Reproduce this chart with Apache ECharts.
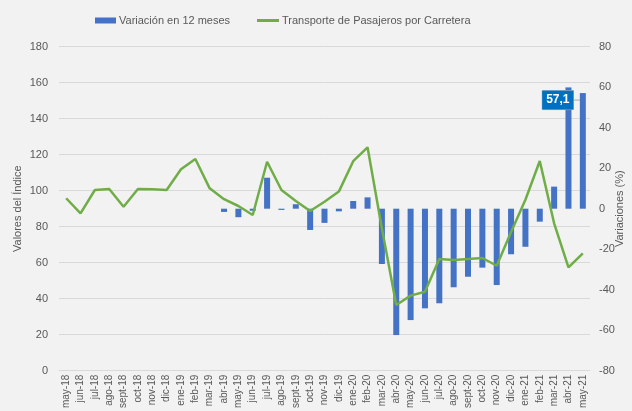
<!DOCTYPE html>
<html>
<head>
<meta charset="utf-8">
<script src="https://cdn.jsdelivr.net/npm/echarts@6/dist/echarts.min.js"></script>
<style>
html,body{margin:0;padding:0;background:#F2F2F2;}
#c{width:632px;height:411px;}
</style>
</head>
<body>
<div id="c"></div>
<script>
var categories = ['may-18','jun-18','jul-18','ago-18','sept-18','oct-18','nov-18','dic-18','ene-19','feb-19','mar-19','abr-19','may-19','jun-19','jul-19','ago-19','sept-19','oct-19','nov-19','dic-19','ene-20','feb-20','mar-20','abr-20','may-20','jun-20','jul-20','ago-20','sept-20','oct-20','nov-20','dic-20','ene-21','feb-21','mar-21','abr-21','may-21'];
var variacion = [null,null,null,null,null,null,null,null,null,null,null,-1.6,-4.2,-1.0,15.3,-0.6,2.2,-10.5,-7.0,-1.3,3.8,5.6,-27.3,-62.4,-55.0,-49.2,-46.7,-38.8,-33.6,-29.1,-37.7,-22.5,-18.8,-6.4,10.9,59.9,57.1];
var transporte = [95.8,87.4,100.4,100.9,91.1,100.9,100.8,100.4,111.9,117.6,101.3,95.3,91.5,86.5,116.1,100.4,94.3,88.7,93.9,99.5,116.4,124.1,79.0,36.5,41.7,43.9,62.0,61.5,62.0,62.6,58.3,77.0,95.0,116.5,81.9,57.4,65.2];
var leftTicks = {min:0, max:180, interval:20};
var rightTicks = {min:-80, max:80, interval:20};
var labelIndex = 36;

var barData = variacion.map(function(v, i){
  if (i === labelIndex) {
    return {value: v, label: {show: true}};
  }
  return v;
});

var chart = echarts.init(document.getElementById('c'));
var txt = '#595959';
chart.setOption({
  backgroundColor: '#F2F2F2',
  textStyle: {fontFamily: '"Liberation Sans", Arial, sans-serif'},
  legend: [{
    data: ['Variación en 12 meses'],
    left: 90, top: 10,
    itemWidth: 21, itemHeight: 6, icon: 'rect', itemGap: 3,
    textStyle: {color: txt, fontSize: 11, padding: [0,0,0,-2]}
  },{
    data: ['Transporte de Pasajeros por Carretera'],
    left: 252, top: 10,
    itemWidth: 22, itemHeight: 3, icon: 'rect',
    textStyle: {color: txt, fontSize: 11, padding: [0,0,0,-2]}
  }],
  grid: {left: 59, right: 42, top: 46.7, bottom: 40.3, containLabel: false, outerBoundsMode: 'none'},
  xAxis: {
    type: 'category',
    data: categories,
    boundaryGap: true,
    axisLine: {show: true, lineStyle: {color: '#D9D9D9', width: 1}},
    axisTick: {show: false},
    axisLabel: {rotate: 90, color: txt, fontSize: 10, interval: 0, margin: 4}
  },
  yAxis: [{
    type: 'value',
    min: leftTicks.min, max: leftTicks.max, interval: leftTicks.interval,
    name: 'Valores del Índice', nameLocation: 'middle', nameGap: 36, nameMoveOverlap: false,
    nameTextStyle: {color: txt, fontSize: 11},
    axisLine: {show: false}, axisTick: {show: false},
    axisLabel: {color: txt, fontSize: 11, margin: 11},
    splitLine: {show: true, lineStyle: {color: '#D9D9D9', width: 1}}
  },{
    type: 'value',
    min: rightTicks.min, max: rightTicks.max, interval: rightTicks.interval,
    name: 'Variaciones (%)', nameLocation: 'middle', nameGap: 24, nameMoveOverlap: false,
    nameTextStyle: {color: txt, fontSize: 11},
    axisLine: {show: false}, axisTick: {show: false},
    axisLabel: {color: txt, fontSize: 11, margin: 9},
    splitLine: {show: false}
  }],
  series: [{
    name: 'Variación en 12 meses',
    type: 'bar',
    yAxisIndex: 1,
    data: barData,
    barWidth: 6,
    itemStyle: {color: '#4472C4'},
    z: 2,
    label: {
      show: false,
      formatter: function(p){ return String(p.value).replace('.', ','); },
      color: '#FFFFFF', fontWeight: 'bold', fontSize: 12,
      backgroundColor: '#0070C0',
      borderColor: '#BFBFBF', borderWidth: 0.5,
      padding: [4, 4, 3, 4]
    },
    labelLayout: function(p){
      return {x: p.rect.x - 22, y: p.rect.y + 7, align: 'center', verticalAlign: 'middle'};
    },
    labelLine: {show: true, lineStyle: {color: '#A6A6A6', width: 1}}
  },{
    name: 'Transporte de Pasajeros por Carretera',
    type: 'line',
    yAxisIndex: 0,
    data: transporte,
    symbol: 'none',
    lineStyle: {color: '#70AD47', width: 2.5},
    itemStyle: {color: '#70AD47'},
    z: 3
  }]
});
</script>
</body>
</html>
